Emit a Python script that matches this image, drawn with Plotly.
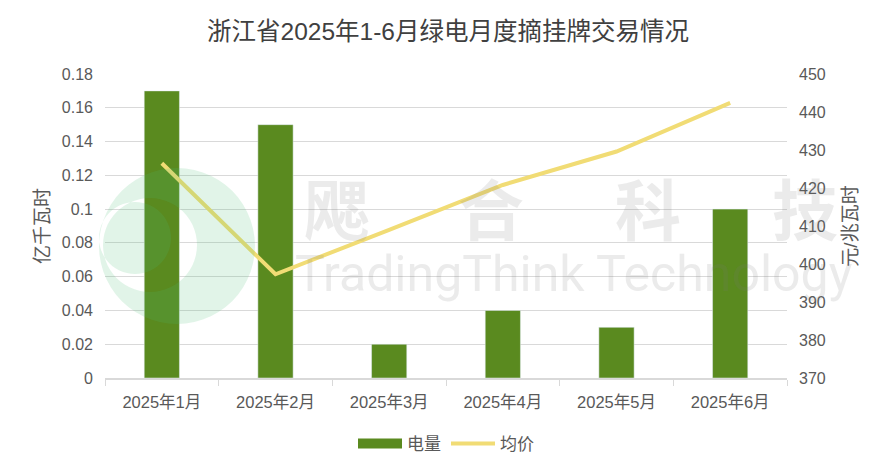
import math
import plotly.graph_objects as go

months = ["2025年1月", "2025年2月", "2025年3月", "2025年4月", "2025年5月", "2025年6月"]
volume = [0.17, 0.15, 0.02, 0.04, 0.03, 0.10]          # 亿千瓦时
price = [426.5, 397.3, 409.0, 420.8, 429.6, 442.4]      # 元/兆瓦时
left_ticks = [0, 0.02, 0.04, 0.06, 0.08, 0.1, 0.12, 0.14, 0.16, 0.18]
left_labels = ["0", "0.02", "0.04", "0.06", "0.08", "0.1", "0.12", "0.14", "0.16", "0.18"]
right_ticks = [370, 380, 390, 400, 410, 420, 430, 440, 450]

OFF = 8  # browser body margin
W, H = 888 - OFF, 476 - OFF
L, R, T, B = 105, 787, 74, 378   # plot area in page pixels

def px(x):
    return (x - L) / (R - L)

def py(y):
    return (B - y) / (B - T)

def circle_path(cx, cy, r, n=56):
    pts = []
    for i in range(n):
        a = 2 * math.pi * i / n
        pts.append((px(cx + r * math.cos(a)), py(cy + r * math.sin(a))))
    return "M %f,%f " % pts[0] + " ".join("L %f,%f" % p for p in pts[1:]) + " Z"

FONT = "Liberation Sans, Noto Sans CJK SC, sans-serif"
TXT = "#595959"

fig = go.Figure()
fig.add_trace(go.Bar(x=months, y=volume, name="电量", marker_color="#5a8a1f",
                     width=0.31, yaxis="y", showlegend=False))
fig.add_trace(go.Scatter(x=[None], y=[None], name="电量", mode="lines",
                         line=dict(color="#5a8a1f", width=15), yaxis="y"))
fig.add_trace(go.Scatter(x=months, y=price, name="均价", mode="lines",
                         line=dict(color="#f1dc75", width=4), yaxis="y2"))

# watermark logo (light green crescent with inner disc)
logo = (circle_path(177, 246, 78) + " " + circle_path(150, 245, 47) + " "
        + circle_path(135, 238, 36))
fig.add_shape(type="path", path=logo, xref="paper", yref="paper",
              fillcolor="rgba(80,190,120,0.17)", line=dict(width=0), layer="above",
              fillrule="evenodd")

wm_color = "rgba(120,120,120,0.15)"
for ch, cx in zip(["飔", "合", "科", "技"], [337, 491, 648, 805]):
    fig.add_annotation(text=ch, x=px(cx), y=py(206), xref="paper", yref="paper",
                       showarrow=False, font=dict(size=66, color=wm_color,
                       family="Noto Sans CJK SC", weight="bold"),
                       xanchor="center", yanchor="middle")
fig.add_annotation(text="TradingThink Technology", x=px(574), y=py(274), xref="paper",
                   yref="paper", showarrow=False,
                   font=dict(size=50, color=wm_color, family="Roboto"),
                   xanchor="center", yanchor="middle")

fig.update_layout(
    width=W, height=H,
    margin=dict(l=L - OFF, r=888 - R, t=T - OFF, b=476 - B),
    paper_bgcolor="white", plot_bgcolor="white",
    font=dict(family=FONT, color=TXT, size=16),
    title=dict(text="浙江省2025年1-6月绿电月度摘挂牌交易情况", x=0.5, xanchor="center",
               y=1 - (31 - OFF) / H, yanchor="middle",
               font=dict(size=24.5, color="#404040", family=FONT)),
    xaxis=dict(type="category", showgrid=False, showline=True, linecolor="#d9d9d9",
               linewidth=1.5, ticks="outside", tickcolor="#d9d9d9", ticklen=6,
               tickson="boundaries", ticklabelstandoff=8,
               tickfont=dict(size=16.5, color=TXT)),
    yaxis=dict(range=[0, 0.18], tickvals=left_ticks, ticktext=left_labels,
               showgrid=True, gridcolor="#d9d9d9", gridwidth=1, zeroline=False,
               showline=False, ticks="", ticklabelstandoff=11,
               title=dict(text="亿千瓦时", font=dict(size=19, color=TXT), standoff=7),
               tickfont=dict(size=16, color=TXT)),
    yaxis2=dict(range=[370, 450], tickvals=right_ticks, overlaying="y", side="right",
                showgrid=False, zeroline=False, showline=False, ticks="",
                ticklabelstandoff=11,
                title=dict(text="元/兆瓦时", font=dict(size=19, color=TXT), standoff=18),
                tickfont=dict(size=16, color=TXT)),
    legend=dict(orientation="h", x=0.5, xanchor="center", y=py(444), yanchor="middle",
                font=dict(size=17, color=TXT), itemwidth=44),
    showlegend=True,
)

fig.write_html("out.html")
